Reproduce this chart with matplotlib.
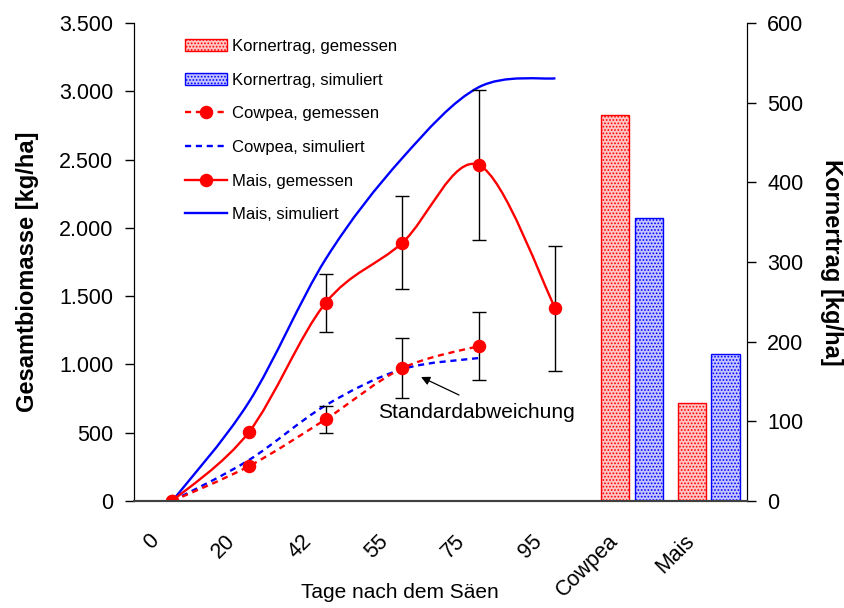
import numpy as np
import matplotlib
matplotlib.use("Agg")
import matplotlib.pyplot as plt
from matplotlib.path import Path
from matplotlib.patches import PathPatch, Patch
from matplotlib.lines import Line2D
import matplotlib.transforms as mtransforms

plt.rcParams['font.family'] = ['Liberation Sans', 'DejaVu Sans']
plt.rcParams['hatch.linewidth'] = 0.8

# categories on the x axis
categories = ['0', '20', '42', '55', '75', '95', 'Cowpea', 'Mais']

# Gesamtbiomasse [kg/ha]
mais_gemessen = [0, 505, 1450, 1890, 2460, 1410]
mais_sd = [0, 0, 210, 340, 550, 460]
mais_simuliert = [0, 725, 1770, 2510, 3030, 3095]
cowpea_gemessen = [0, 255, 598, 972, 1135]
cowpea_sd = [0, 0, 100, 220, 250]
cowpea_simuliert = [0, 300, 700, 965, 1047]

# Kornertrag [kg/ha], groups Cowpea / Mais
ertrag_gruppen = ['Cowpea', 'Mais']
ertrag_gemessen = [485, 123]
ertrag_simuliert = [355, 184]

left_ticks = [0, 500, 1000, 1500, 2000, 2500, 3000, 3500]
left_labels = ['0', '500', '1.000', '1.500', '2.000', '2.500', '3.000', '3.500']
right_ticks = [0, 100, 200, 300, 400, 500, 600]

RED = '#ff0000'
BLUE = '#0000ff'
PINK = '#ffc4c4'
LILAC = '#c4c4ff'


def smooth_path(ys):
    # smoothed line like Excel: cubic bezier segments through the points
    pts = np.column_stack([np.arange(len(ys)), ys]).astype(float)
    n = len(pts)
    verts = [pts[0]]
    codes = [Path.MOVETO]
    for i in range(n - 1):
        p0 = pts[i - 1] if i > 0 else pts[i]
        p1, p2 = pts[i], pts[i + 1]
        p3 = pts[i + 2] if i + 2 < n else pts[i + 1]
        verts += [p1 + (p2 - p0) / 6, p2 - (p3 - p1) / 6, p2]
        codes += [Path.CURVE4] * 3
    return Path(verts, codes)


fig = plt.figure(figsize=(8.45, 6.08), dpi=100)
ax = fig.add_axes([134 / 845, 107 / 608, 613 / 845, 478 / 608])
ax2 = ax.twinx()

# curves
lw = 1.7
dash = (0, (2.6, 2.0))
ax.add_patch(PathPatch(smooth_path(mais_simuliert), fill=False, edgecolor=BLUE, lw=lw, zorder=3))
ax.add_patch(PathPatch(smooth_path(mais_gemessen), fill=False, edgecolor=RED, lw=lw, zorder=3))
ax.add_patch(PathPatch(smooth_path(cowpea_simuliert), fill=False, edgecolor=BLUE, lw=lw,
                       linestyle=dash, zorder=3))
ax.add_patch(PathPatch(smooth_path(cowpea_gemessen), fill=False, edgecolor=RED, lw=lw,
                       linestyle=dash, zorder=3))

# error bars (only where a standard deviation exists)
for vals, sd in [(mais_gemessen, mais_sd), (cowpea_gemessen, cowpea_sd)]:
    idx = [i for i, s in enumerate(sd) if s > 0]
    ax.errorbar(idx, [vals[i] for i in idx], yerr=[sd[i] for i in idx], fmt='none',
                ecolor='black', elinewidth=1.0, capsize=5.2, capthick=1.0, zorder=4)

# measured points
ax.plot(range(len(mais_gemessen)), mais_gemessen, 'o', color=RED, ms=8.7, zorder=5)
ax.plot(range(len(cowpea_gemessen)), cowpea_gemessen, 'o', color=RED, ms=8.7, zorder=5)

ax.set_xlim(-0.5, len(categories) - 0.5)
ax.set_ylim(0, 3500)
ax.set_yticks(left_ticks)
ax.set_yticklabels(left_labels, fontsize=15.5)
ax.set_xticks(range(len(categories)))
ax.set_xticklabels([])
ax.tick_params(axis='x', length=0)
ax.tick_params(axis='y', direction='out', length=6.5, width=1, pad=8.5)

# rotated category labels under the axis
offset = mtransforms.ScaledTranslation(-17 / 100, -37 / 100, fig.dpi_scale_trans)
for i, cat in enumerate(categories):
    ax.text(i, 0, cat, transform=ax.get_xaxis_transform() + offset, fontsize=15.5,
            rotation=45, ha='right', va='center', rotation_mode='anchor')

# bars on the right axis
bx = np.arange(len(ertrag_gruppen)) + 6
w = 0.37
ax2.bar(bx - 0.22, ertrag_gemessen, width=w, facecolor=PINK, edgecolor=RED, lw=1.0,
        hatch='.....', zorder=2)
ax2.bar(bx + 0.22, ertrag_simuliert, width=w, facecolor=LILAC, edgecolor=BLUE, lw=1.0,
        hatch='.....', zorder=2)
ax2.set_ylim(0, 600)
ax2.set_yticks(right_ticks)
ax2.tick_params(axis='y', direction='out', length=6.5, width=1, pad=8, labelsize=15.5)

for a in (ax, ax2):
    a.spines['top'].set_visible(False)
    a.spines['bottom'].set_color('#404040')
    a.spines['bottom'].set_linewidth(1.5)

ax.set_ylabel('Gesamtbiomasse [kg/ha]', fontsize=17, fontweight='bold')
ax.yaxis.set_label_coords(-0.155, 0.48)
ax2.set_ylabel('Kornertrag [kg/ha]', fontsize=17, fontweight='bold', rotation=270, va='bottom')
ax2.yaxis.set_label_coords(1.119, 0.5)
ax.set_xlabel('Tage nach dem Säen', fontsize=15)
ax.xaxis.set_label_coords(0.434, -0.171)

# annotation for the error bars
ax.annotate('', xy=(421, 608 - 377), xycoords='figure pixels',
            xytext=(459, 608 - 395), textcoords='figure pixels',
            arrowprops=dict(arrowstyle='-|>', color='black', lw=0.9,
                            mutation_scale=13, shrinkA=0, shrinkB=0))
fig.text(476 / 845, 1 - 412 / 608, 'Standardabweichung', fontsize=15,
         ha='center', va='center')

handles = [
    Patch(facecolor=PINK, edgecolor=RED, hatch='.....', lw=1.0),
    Patch(facecolor=LILAC, edgecolor=BLUE, hatch='.....', lw=1.0),
    Line2D([], [], color=RED, lw=lw, linestyle=dash, marker='o', ms=8.7),
    Line2D([], [], color=BLUE, lw=lw, linestyle=dash),
    Line2D([], [], color=RED, lw=lw, marker='o', ms=8.7),
    Line2D([], [], color=BLUE, lw=lw),
]
labels = ['Kornertrag, gemessen', 'Kornertrag, simuliert', 'Cowpea, gemessen',
          'Cowpea, simuliert', 'Mais, gemessen', 'Mais, simuliert']
leg = ax2.legend(handles, labels, loc='upper left', bbox_to_anchor=(185 / 845, 1 - 39 / 608),
                 bbox_transform=fig.transFigure, frameon=False, fontsize=12,
                 handlelength=2.55, handleheight=0.75, handletextpad=0.28, labelspacing=1.12,
                 borderpad=0, borderaxespad=0)

fig.savefig('out.png', dpi=100)
